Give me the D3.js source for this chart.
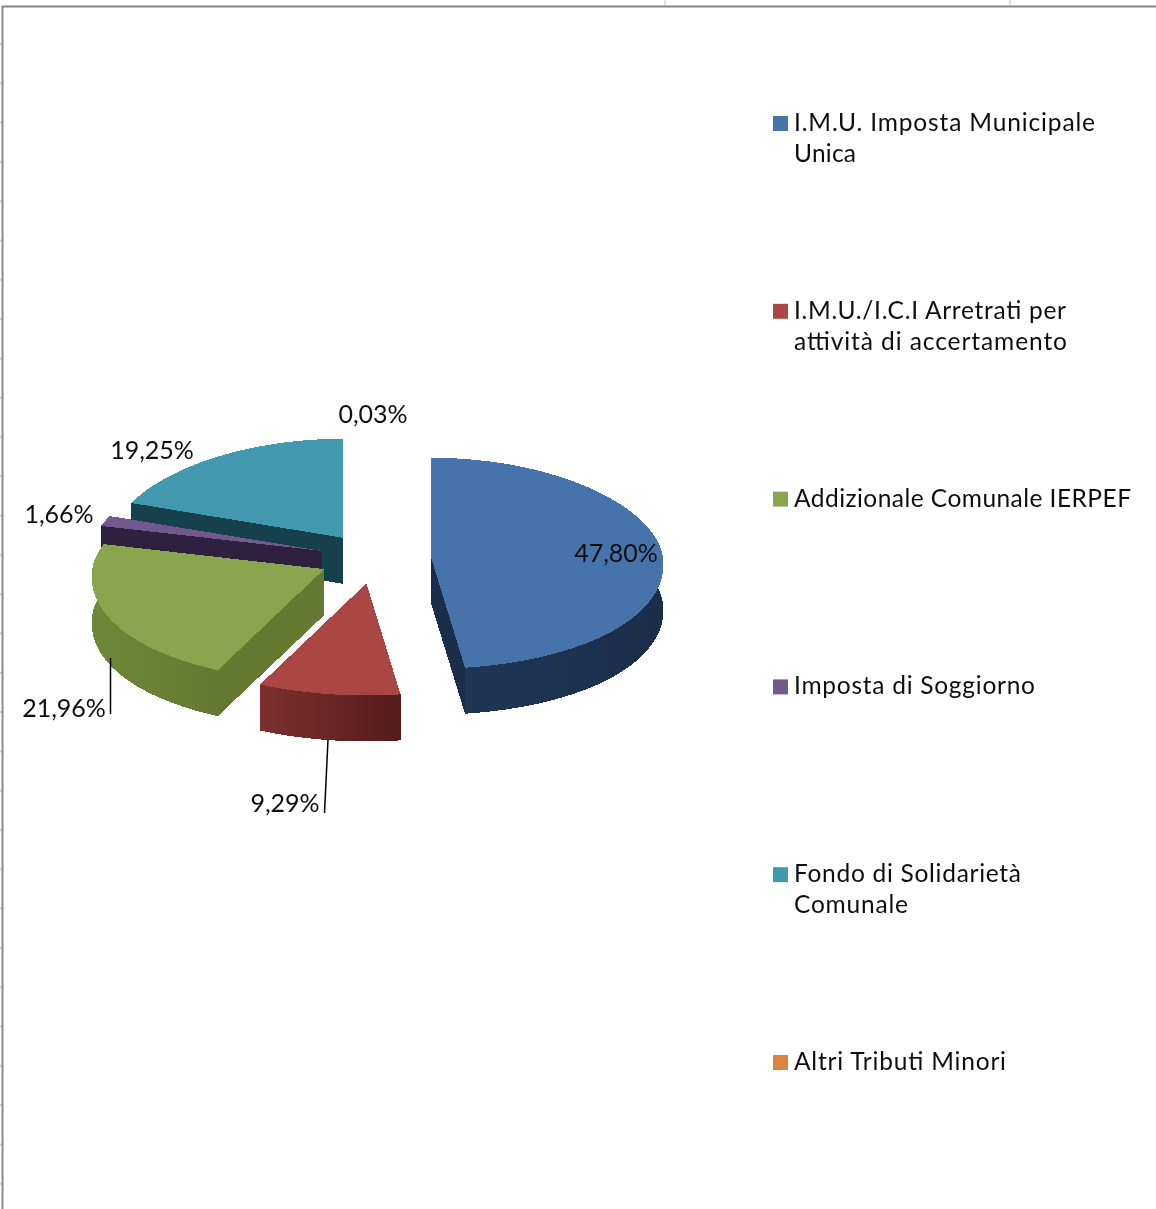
<!DOCTYPE html>
<html><head><meta charset="utf-8">
<style>html,body{margin:0;padding:0;background:#fff;overflow:hidden}svg{display:block}text{font-family:Lato,"Open Sans",sans-serif;fill:#111}</style>
<script src="https://cdn.jsdelivr.net/npm/d3@7/dist/d3.min.js"></script>
</head><body>
<svg id="c" width="1156" height="1209"></svg>
<script>
const categories = ["I.M.U. Imposta Municipale Unica","I.M.U./I.C.I Arretrati per attività di accertamento","Addizionale Comunale IERPEF","Imposta di Soggiorno","Fondo di Solidarietà Comunale","Altri Tributi Minori"];
const legendLines = [["I.M.U. Imposta Municipale","Unica"],["I.M.U./I.C.I Arretrati per","attività di accertamento"],["Addizionale Comunale IERPEF"],["Imposta di Soggiorno"],["Fondo di Solidarietà","Comunale"],["Altri Tributi Minori"]];
const legendWidths = [[301,62],[272,273],[337],[241],[227,114],[212]];
const values = [47.80,9.29,21.96,1.66,19.25,0.03];
const valueLabels = ["47,80%","9,29%","21,96%","1,66%","19,25%","0,03%"];
const colors = ["#4674aa","#aa4643","#89a54e","#71588f","#4198af","#db843d"];
const wallLight = ["#1f3857","#7c302e","#6f873a","#2e2140","#17404d","#8a4f20"];
const wallDark  = ["#1a2d49","#551c1a","#647a33","#2e2140","#17404d","#6f3f18"];
const labelX = [616,285,64,59,152,373];
const labelY = [553,803,708,514,450,414];
const leaders = [[110.5,658,110.5,714],[328,740,324.5,813]];

const cx=375, cy=558.5, rx=232, ryBack=99, ryFront=112, depth=46, explode=56, tilt=0.45, persp=0.07;
const svg=d3.select("#c");
const defs=svg.append("defs");
defs.append("filter").attr("id","soft").append("feGaussianBlur").attr("stdDeviation",0.45);

// window frame
const frame=svg.append("g");
frame.append("rect").attr("x",0).attr("y",0).attr("width",1156).attr("height",1209).attr("fill","#fff");
frame.selectAll("line.t").data([665,1010]).join("line").attr("x1",d=>d).attr("x2",d=>d).attr("y1",0).attr("y2",6).attr("stroke","#c8c8c8");
frame.selectAll("line.l").data(d3.range(44,1209,39.3)).join("line").attr("x1",0).attr("x2",2).attr("y1",d=>d).attr("y2",d=>d).attr("stroke","#d4d4d4").attr("stroke-width",2);
frame.append("line").attr("x1",2).attr("x2",1156).attr("y1",6.5).attr("y2",6.5).attr("stroke","#858585").attr("stroke-width",2);
frame.append("line").attr("x1",2.5).attr("x2",2.5).attr("y1",6).attr("y2",1209).attr("stroke","#8a8a8a").attr("stroke-width",2);

const pie=d3.pie().sort(null).value(d=>d)(values);
const ptOn=(a,ox,oy)=>{const c=Math.cos(a);return [ox+rx*(1-persp*c)*Math.sin(a), oy-(c>0?ryBack:ryFront)*c];};
const line=d3.line();

const order=[4,3,2,1,0]; // back to front, the 0,03% slice is too thin to be seen
const plot=svg.append("g").attr("shape-rendering","crispEdges");
order.forEach(i=>{
  const p=pie[i], mid=(p.startAngle+p.endAngle)/2;
  const ox=cx+explode*Math.sin(mid), oy=cy-explode*tilt*Math.cos(mid);
  const n=Math.max(2,Math.ceil((p.endAngle-p.startAngle)*60));
  const angs=d3.range(n+1).map(k=>p.startAngle+(p.endAngle-p.startAngle)*k/n);
  const rim=angs.map(a=>ptOn(a,ox,oy));
  const rimLow=rim.map(q=>[q[0],q[1]+depth]);
  const g=plot.append("g");
  const id="wall"+i;
  const gr=defs.append("linearGradient").attr("id",id).attr("gradientUnits","userSpaceOnUse")
    .attr("x1",d3.min(rim,q=>q[0])).attr("x2",d3.max(rim,q=>q[0])).attr("y1",0).attr("y2",0);
  gr.append("stop").attr("offset",0).attr("stop-color",wallLight[i]);
  gr.append("stop").attr("offset",1).attr("stop-color",wallDark[i]);
  [rim[0],rim[rim.length-1]].forEach(q=>{
    g.append("path").attr("fill",wallDark[i]).attr("d",line([[ox,oy],q,[q[0],q[1]+depth],[ox,oy+depth]])+"Z");
  });
  g.append("path").attr("fill",`url(#${id})`).attr("d",line(rim.concat(rimLow.slice().reverse()))+"Z");
  g.append("path").attr("fill",colors[i]).attr("d",line([[ox,oy]].concat(rim))+"Z");
});

const tg=svg.append("g").attr("filter","url(#soft)");
tg.selectAll("line.lead").data(leaders).join("line").attr("x1",d=>d[0]).attr("y1",d=>d[1]).attr("x2",d=>d[2]).attr("y2",d=>d[3]).attr("stroke","#000").attr("stroke-width",1.5);
tg.selectAll("text.v").data(valueLabels).join("text").attr("class","v")
  .attr("x",(d,i)=>labelX[i]).attr("y",(d,i)=>labelY[i]).attr("dy","0.35em").attr("text-anchor","middle")
  .attr("font-size",25).text(d=>d);

const ly=d3.scalePoint().domain(categories).range([123,1062]);
const lg=tg.selectAll("g.l").data(categories).join("g").attr("class","l").attr("transform",d=>`translate(773,${ly(d)})`);
lg.append("rect").attr("x",0).attr("y",-7).attr("width",15).attr("height",15).attr("fill",(d,i)=>colors[i]);
lg.each(function(d,i){
  d3.select(this).selectAll("text").data(legendLines[i]).join("text")
    .attr("x",21).attr("y",(t,j)=>j*31).attr("dy","0.33em")
    .attr("font-size",24.5).attr("textLength",(t,j)=>legendWidths[i][j]).attr("lengthAdjust","spacing").text(t=>t);
});
</script></body></html>
